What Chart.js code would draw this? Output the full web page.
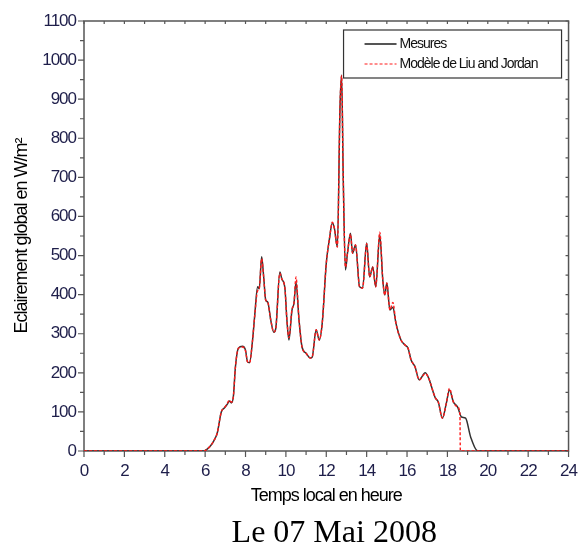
<!DOCTYPE html>
<html>
<head>
<meta charset="utf-8">
<script src="https://cdn.jsdelivr.net/npm/chart.js@4.4.0/dist/chart.umd.min.js"></script>
<style>
  html, body { margin: 0; padding: 0; background: #fff; }
  #wrap { width: 588px; height: 545px; }
</style>
</head>
<body>
<div id="wrap"><canvas id="chart" width="588" height="545"></canvas></div>
<script>
// heures (temps local) et éclairement mesuré
const timeMes = [0, 5.95, 6.1, 6.25, 6.45, 6.6, 6.8, 6.95, 7.1, 7.2, 7.3, 7.4, 7.5, 7.65, 7.85, 8.0, 8.1, 8.2, 8.35, 8.45,
  8.6, 8.68, 8.8, 8.9, 9.0, 9.1, 9.25, 9.4, 9.5, 9.7, 9.8, 9.95, 10.05, 10.15, 10.3, 10.4, 10.5, 10.65, 10.8, 11.0,
  11.2, 11.3, 11.5, 11.65, 11.8, 12.0, 12.15, 12.3, 12.4, 12.55, 12.68, 12.76, 12.84, 12.95, 13.05, 13.2, 13.3, 13.45, 13.65, 13.8,
  14.0, 14.15, 14.3, 14.45, 14.65, 14.8, 14.9, 15.0, 15.15, 15.3, 15.45, 15.7, 15.9, 16.05, 16.2, 16.4, 16.6, 16.9, 17.05, 17.4,
  17.55, 17.75, 17.95, 18.1, 18.3, 18.5, 18.7, 18.9, 19.15, 19.5, 24];
const mesures = [0, 0, 5, 12, 28, 46, 100, 110, 120, 128, 123, 140, 215, 263, 268, 258, 228, 226, 284, 343,
  420, 415, 497, 445, 386, 381, 335, 304, 314, 458, 440, 417, 335, 284, 360, 378, 432, 335, 266, 250,
  238, 240, 310, 284, 327, 480, 540, 583, 570, 522, 880, 962, 700, 463, 506, 557, 506, 527, 420, 417,
  532, 445, 471, 420, 553, 437, 399, 430, 361, 368, 327, 284, 271, 263, 233, 215, 182, 200, 189, 136,
  125, 84, 123, 156, 125, 113, 87, 84, 36, 0, 0];

// modèle de Liu and Jordan
const timeMod = [0, 5.95, 6.1, 6.25, 6.45, 6.6, 6.8, 6.95, 7.1, 7.2, 7.3, 7.4, 7.5, 7.65, 7.85, 8.0, 8.1, 8.2, 8.35, 8.45,
  8.6, 8.68, 8.8, 8.9, 9.0, 9.1, 9.25, 9.4, 9.5, 9.7, 9.8, 9.95, 10.05, 10.15, 10.3, 10.4, 10.5, 10.65, 10.8, 11.0,
  11.2, 11.3, 11.5, 11.65, 11.8, 12.0, 12.15, 12.3, 12.4, 12.55, 12.68, 12.76, 12.84, 12.95, 13.05, 13.2, 13.3, 13.45, 13.65, 13.8,
  14.0, 14.15, 14.3, 14.45, 14.65, 14.8, 14.9, 15.0, 15.15, 15.3, 15.45, 15.7, 15.9, 16.05, 16.2, 16.4, 16.6, 16.9, 17.05, 17.4,
  17.55, 17.75, 17.95, 18.1, 18.3, 18.5, 18.62, 18.64, 24];
const modele = [0, 0, 5, 12, 28, 46, 100, 110, 122, 130, 125, 140, 215, 263, 266, 256, 228, 226, 284, 343,
  410, 415, 492, 445, 386, 381, 335, 304, 314, 455, 440, 417, 335, 290, 362, 378, 445, 335, 266, 250,
  238, 240, 310, 284, 327, 480, 540, 585, 570, 522, 880, 960, 700, 470, 506, 555, 506, 527, 420, 417,
  530, 445, 471, 420, 560, 437, 399, 430, 361, 380, 327, 284, 271, 263, 233, 215, 182, 198, 189, 136,
  125, 84, 123, 160, 125, 113, 95, 0, 0];

const caption = 'Le 07 Mai 2008';
const xTicksStep = 2;
const yTicksStep = 100;

const sans = "'Liberation Sans', Arial, sans-serif";
const tickFont = { family: sans, size: 17 };
const tickColor = '#1e1e4a';

const toPoints = (xs, ys) => xs.map((h, i) => ({ x: h, y: ys[i] }));

const framePlugin = {
  id: 'frame',
  beforeDraw(chart) {
    // texte serré comme sur la figure d'origine
    chart.ctx.letterSpacing = '-1px';
  },
  beforeDatasetsDraw(chart) {
    const { ctx, chartArea: a, scales: { x, y } } = chart;
    ctx.save();
    ctx.strokeStyle = '#555';
    ctx.lineWidth = 1.5;
    ctx.strokeRect(a.left, a.top, a.right - a.left, a.bottom - a.top);
    ctx.beginPath();
    for (let h = 0; h <= 24; h++) {
      const px = x.getPixelForValue(h);
      const len = h % 2 === 0 ? 6 : 4;
      ctx.moveTo(px, a.bottom); ctx.lineTo(px, a.bottom + len);
      ctx.moveTo(px, a.top); ctx.lineTo(px, a.top + 3);
    }
    for (let v = 0; v <= 1100; v += 50) {
      const py = y.getPixelForValue(v);
      const len = v % 100 === 0 ? 6 : 4;
      ctx.moveTo(a.left, py); ctx.lineTo(a.left - len, py);
      ctx.moveTo(a.right, py); ctx.lineTo(a.right - 3, py);
    }
    ctx.lineWidth = 1.2;
    ctx.stroke();
    ctx.restore();
  },
  afterDatasetsDraw(chart) {
    // légende encadrée, en haut à droite
    const { ctx, chartArea: a } = chart;
    const bx = a.right - 225, by = a.top + 9, bw = 218, bh = 48;
    ctx.save();
    ctx.fillStyle = '#fff';
    ctx.fillRect(bx, by, bw, bh);
    ctx.strokeStyle = '#333';
    ctx.lineWidth = 1.2;
    ctx.strokeRect(bx, by, bw, bh);
    const rows = [chart.data.datasets[1], chart.data.datasets[0]];
    rows.forEach((ds, i) => {
      const ly = by + 14 + i * 20;
      ctx.beginPath();
      ctx.strokeStyle = i === 0 ? '#555' : ds.borderColor;
      ctx.lineWidth = i === 0 ? 2 : 1.2;
      ctx.setLineDash(ds.borderDash || []);
      ctx.moveTo(bx + 21, ly);
      ctx.lineTo(bx + 53, ly);
      ctx.stroke();
      ctx.setLineDash([]);
      ctx.fillStyle = '#111';
      ctx.font = '14px ' + sans;
      ctx.textBaseline = 'middle';
      ctx.fillText(ds.label, bx + 56, ly);
    });
    ctx.restore();
  },
  afterDraw(chart) {
    const { ctx, chartArea: a } = chart;
    ctx.letterSpacing = '0px';
    // légende de la figure, sous le titre de l'axe x
    ctx.save();
    ctx.font = "32px 'Liberation Serif', 'Times New Roman', serif";
    ctx.fillStyle = '#000';
    ctx.textAlign = 'center';
    ctx.textBaseline = 'alphabetic';
    ctx.fillText(caption, (a.left + a.right) / 2 + 8, 542);
    ctx.restore();
  }
};

new Chart(document.getElementById('chart'), {
  type: 'line',
  data: {
    datasets: [
      {
        label: 'Modèle de Liu and Jordan',
        data: toPoints(timeMod, modele),
        borderColor: '#ff1a1a',
        borderWidth: 1.4,
        borderDash: [3, 2],
        pointRadius: 0,
        cubicInterpolationMode: 'monotone',
        order: 0
      },
      {
        label: 'Mesures',
        data: toPoints(timeMes, mesures),
        borderColor: '#333333',
        borderWidth: 1.5,
        pointRadius: 0,
        cubicInterpolationMode: 'monotone',
        order: 1
      }
    ]
  },
  options: {
    responsive: false,
    animation: false,
    layout: { padding: { top: 21, right: 16, left: 0, bottom: 35 } },
    plugins: {
      legend: { display: false },
      tooltip: { enabled: false },
      title: { display: false }
    },
    scales: {
      x: {
        type: 'linear',
        min: 0,
        max: 24,
        ticks: { stepSize: xTicksStep, font: tickFont, color: tickColor, padding: 10, maxRotation: 0,
          callback: (v) => String(v) },
        grid: { display: false, drawTicks: false },
        border: { display: false },
        title: {
          display: true,
          text: 'Temps local en heure',
          color: '#000',
          font: { family: sans, size: 18 },
          padding: { top: 0, bottom: 3 }
        },
        afterFit(scale) { scale.height = 59; }
      },
      y: {
        min: 0,
        max: 1100,
        ticks: { stepSize: yTicksStep, font: tickFont, color: tickColor, padding: 8,
          callback: (v) => String(v) },
        grid: { display: false, drawTicks: false },
        border: { display: false },
        title: {
          display: true,
          text: 'Eclairement global en W/m²',
          color: '#000',
          font: { family: sans, size: 18 },
          padding: { top: 11, bottom: 0 }
        },
        afterFit(scale) { scale.width = 84; }
      }
    }
  },
  plugins: [framePlugin]
});
</script>
</body>
</html>
